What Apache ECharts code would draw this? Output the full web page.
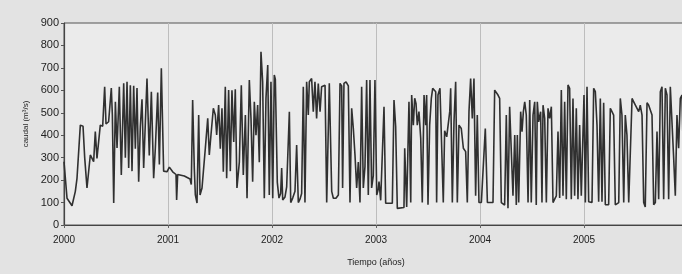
<!DOCTYPE html>
<html>
<head>
<meta charset="utf-8">
<script src="https://cdn.jsdelivr.net/npm/echarts@6/dist/echarts.min.js"></script>
<style>
  html, body { margin: 0; padding: 0; background: #e3e3e3; }
  #app { width: 682px; height: 274px; }
</style>
</head>
<body>
<div id="app"></div>
<script>
// caudal diario aproximado [año decimal, m3/s]
const flow2000 = [
  [2000.000,282],[2000.029,119],[2000.077,86],[2000.109,150],[2000.125,208],[2000.141,215],
  [2000.157,445],[2000.183,440],[2000.199,300],[2000.221,165],[2000.253,312],[2000.285,282],
  [2000.301,416],[2000.317,297],[2000.349,445],[2000.372,440],[2000.391,616],[2000.404,450],
  [2000.429,460],[2000.455,610],[2000.465,490],[2000.478,98],[2000.494,549],[2000.510,343],
  [2000.532,616],[2000.551,223],[2000.574,631],[2000.590,300],[2000.606,638],[2000.622,254],
  [2000.638,623],[2000.654,240],[2000.670,620],[2000.686,340],[2000.702,610],[2000.718,193],
  [2000.734,440],[2000.750,560],[2000.766,254],[2000.798,653],[2000.820,310],[2000.840,594],
  [2000.862,208],[2000.878,340],[2000.901,590],[2000.917,270],[2000.936,698],[2000.958,240],
  [2000.990,237]
];
const flow2001 = [
  [2001.013,258],[2001.045,237],[2001.077,225],[2001.083,111],[2001.093,225],[2001.157,218],
  [2001.212,205],[2001.224,180],[2001.237,557],[2001.253,250],[2001.263,134],[2001.279,98],
  [2001.295,490],[2001.308,134],[2001.327,165],[2001.340,237],[2001.359,342],[2001.382,475],
  [2001.397,312],[2001.413,400],[2001.436,520],[2001.455,490],[2001.468,401],[2001.487,534],
  [2001.503,340],[2001.519,520],[2001.532,237],[2001.551,616],[2001.564,208],[2001.583,601],
  [2001.599,240],[2001.615,600],[2001.632,370],[2001.647,605],[2001.663,165],[2001.686,280],
  [2001.705,623],[2001.724,223],[2001.744,490],[2001.760,119],[2001.782,646],[2001.798,475],
  [2001.814,193],[2001.830,549],[2001.846,400],[2001.862,534],[2001.878,280],[2001.894,772],
  [2001.910,638],[2001.926,119],[2001.942,564],[2001.959,713],[2001.974,134],[2001.990,638]
];
const flow2002 = [
  [2002.007,119],[2002.022,668],[2002.032,650],[2002.051,190],[2002.067,120],[2002.083,140],
  [2002.093,254],[2002.103,111],[2002.125,125],[2002.141,170],[2002.167,505],[2002.180,100],
  [2002.199,120],[2002.221,150],[2002.237,356],[2002.253,100],[2002.269,115],[2002.285,140],
  [2002.301,616],[2002.317,100],[2002.333,638],[2002.349,490],[2002.359,638],[2002.381,653],
  [2002.397,505],[2002.413,638],[2002.429,475],[2002.445,630],[2002.462,505],[2002.477,616],
  [2002.510,623],[2002.526,100],[2002.551,631],[2002.574,150],[2002.590,119],[2002.615,119],
  [2002.638,134],[2002.654,631],[2002.670,620],[2002.679,165],[2002.692,631],[2002.712,638],
  [2002.734,620],[2002.750,100],[2002.766,520],[2002.782,430],[2002.798,312],[2002.814,165],
  [2002.830,280],[2002.846,100],[2002.862,616],[2002.878,165],[2002.894,260],[2002.910,646],
  [2002.926,134],[2002.942,646],[2002.958,165],[2002.974,220],[2002.990,646]
];
const flow2003 = [
  [2003.007,134],[2003.022,160],[2003.029,193],[2003.045,110],[2003.061,104],[2003.077,527],
  [2003.093,97],[2003.157,97],[2003.173,557],[2003.189,440],[2003.205,74],[2003.269,78],
  [2003.276,342],[2003.295,80],[2003.317,549],[2003.334,100],[2003.343,579],[2003.359,445],
  [2003.372,565],[2003.385,540],[2003.397,445],[2003.413,505],[2003.430,386],[2003.445,100],
  [2003.462,579],[2003.478,445],[2003.487,579],[2003.500,90],[2003.516,445],[2003.532,564],
  [2003.545,609],[2003.558,616],[2003.574,594],[2003.583,100],[2003.596,579],[2003.615,609],
  [2003.632,609],[2003.647,100],[2003.660,420],[2003.680,393],[2003.692,400],[2003.709,505],
  [2003.718,609],[2003.734,100],[2003.750,460],[2003.766,638],[2003.782,100],[2003.798,445],
  [2003.820,430],[2003.840,342],[2003.862,327],[2003.878,100],[2003.894,505],[2003.910,653],
  [2003.926,475],[2003.942,653],[2003.958,130],[2003.974,490],[2003.990,100]
];
const flow2004 = [
  [2004.013,100],[2004.051,430],[2004.071,100],[2004.125,100],[2004.141,601],[2004.157,594],
  [2004.173,579],[2004.189,564],[2004.205,100],[2004.237,89],[2004.253,490],[2004.269,75],
  [2004.285,527],[2004.301,534],[2004.317,130],[2004.334,401],[2004.349,89],[2004.359,401],
  [2004.372,100],[2004.391,505],[2004.404,416],[2004.417,505],[2004.430,549],[2004.445,490],
  [2004.462,100],[2004.478,557],[2004.493,100],[2004.510,490],[2004.526,549],[2004.541,89],
  [2004.551,549],[2004.564,460],[2004.583,505],[2004.596,100],[2004.606,534],[2004.622,475],
  [2004.638,100],[2004.654,520],[2004.670,475],[2004.686,527],[2004.702,100],[2004.718,115],
  [2004.734,130],[2004.750,416],[2004.766,120],[2004.782,601],[2004.798,130],[2004.814,549],
  [2004.830,115],[2004.846,624],[2004.862,609],[2004.878,115],[2004.894,564],[2004.910,130],
  [2004.926,520],[2004.942,115],[2004.958,445],[2004.974,130]
];
const flow2005 = [
  [2005.000,579],[2005.013,100],[2005.029,616],[2005.045,104],[2005.077,100],[2005.093,609],
  [2005.109,594],[2005.125,445],[2005.141,104],[2005.157,564],[2005.173,104],[2005.189,545],
  [2005.205,90],[2005.237,90],[2005.253,520],[2005.269,505],[2005.285,490],[2005.301,90],
  [2005.334,100],[2005.349,564],[2005.365,490],[2005.382,100],[2005.397,490],[2005.413,401],
  [2005.430,100],[2005.445,100],[2005.462,564],[2005.478,549],[2005.494,534],[2005.510,520],
  [2005.526,505],[2005.541,534],[2005.558,490],[2005.574,100],[2005.589,80],[2005.606,545],
  [2005.622,534],[2005.638,534],[2005.654,490],[2005.670,90],[2005.686,100],[2005.702,416],
  [2005.718,115],[2005.734,594],[2005.750,616],[2005.766,115],[2005.782,609],[2005.798,579],
  [2005.814,115],[2005.830,616],[2005.846,623],[2005.862,300],[2005.878,130],[2005.894,490],
  [2005.910,342],[2005.926,564],[2005.942,579],[2005.960,200],[2005.980,560]
];
const yearTicks = [2000, 2001, 2002, 2003, 2004, 2005, 2006];

const flow = [].concat(flow2000, flow2001, flow2002, flow2003, flow2004, flow2005);

const chart = echarts.init(document.getElementById('app'), null, { renderer: 'canvas' });
const txt = '#222';
chart.setOption({
  backgroundColor: '#e3e3e3',
  animation: false,
  grid: {
    left: 64, top: 23, width: 624, height: 202,
    outerBoundsMode: 'none', containLabel: false,
    show: true, backgroundColor: '#ebebeb', borderColor: '#555', borderWidth: 1
  },
  xAxis: {
    type: 'value',
    min: yearTicks[0], max: yearTicks[yearTicks.length - 1], interval: 1,
    name: 'Tiempo (años)', nameLocation: 'middle', nameGap: 33,
    nameTextStyle: { fontFamily: 'Liberation Sans', fontSize: 9, color: txt },
    axisLine: { show: true, lineStyle: { color: '#444', width: 1.2 } },
    axisTick: { show: true, length: 3, lineStyle: { color: '#666' } },
    axisLabel: { fontFamily: 'Liberation Sans', fontSize: 10, color: txt, margin: 10,
      formatter: v => (v < 2006 ? String(v) : '') },
    splitLine: { show: true, lineStyle: { color: '#bdbdbd', width: 1 } }
  },
  yAxis: {
    type: 'value', min: 0, max: 900, interval: 100,
    name: 'caudal (m³/s)', nameLocation: 'middle', nameGap: 14,
    nameTextStyle: { fontFamily: 'Liberation Sans', fontSize: 8, color: txt },
    axisLine: { show: true, lineStyle: { color: '#444', width: 1.2 } },
    axisTick: { show: true, length: 3, lineStyle: { color: '#555' } },
    axisLabel: { fontFamily: 'Liberation Sans', fontSize: 11, color: txt, margin: 5 },
    splitLine: { show: false }
  },
  series: [{
    type: 'line',
    data: flow,
    showSymbol: false,
    lineStyle: { color: '#303030', width: 1.6 }
  }]
});
</script>
</body>
</html>
